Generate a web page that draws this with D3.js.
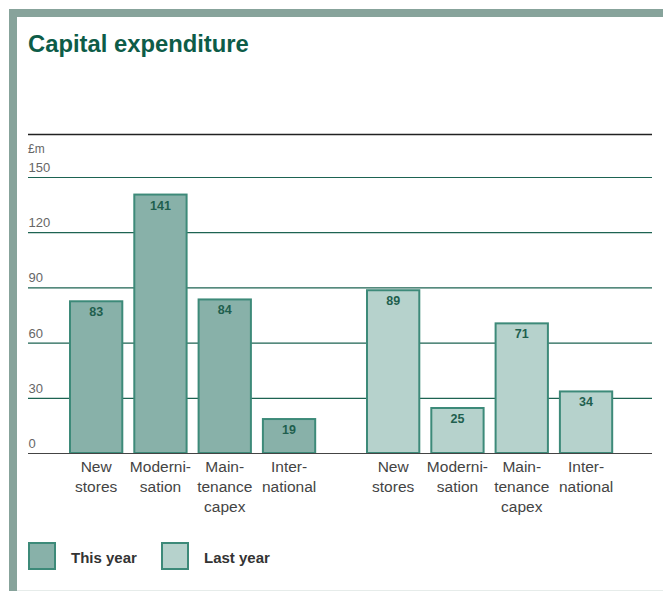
<!DOCTYPE html>
<html>
<head>
<meta charset="utf-8">
<script src="https://cdn.jsdelivr.net/npm/d3@7"></script>
<style>
  html, body { margin: 0; padding: 0; background: #fff; }
  svg { display: block; font-family: "Liberation Sans", Arial, Helvetica, sans-serif; }
</style>
</head>
<body>
<svg id="chart" width="663" height="591"></svg>
<script>
// Capital expenditure, £m
const series = ["This year", "Last year"];
const categories = ["New stores", "Modernisation", "Maintenance capex", "International"];
const categoryLines = [["New", "stores"], ["Moderni-", "sation"], ["Main-", "tenance", "capex"], ["Inter-", "national"]];
const thisYear = [83, 141, 84, 19];
const lastYear = [89, 25, 71, 34];
const yTicks = [0, 30, 60, 90, 120, 150];

const values = { "This year": thisYear, "Last year": lastYear };
const fills = { "This year": "#88b1a9", "Last year": "#b6d2cc" };
const strokeCol = "#3d8a79";

const svg = d3.select("#chart");

// frame
svg.append("rect").attr("x", 9).attr("y", 9).attr("width", 654).attr("height", 8).attr("fill", "#87a39b");
svg.append("rect").attr("x", 9).attr("y", 9).attr("width", 8).attr("height", 582).attr("fill", "#87a39b");
svg.append("line").attr("x1", 17).attr("x2", 663).attr("y1", 590.5).attr("y2", 590.5)
  .attr("stroke", "#e6ecea").attr("stroke-width", 1);

// title
svg.append("text").attr("x", 28).attr("y", 51.5)
  .attr("font-size", 23.8).attr("font-weight", "bold").attr("fill", "#0d5c48")
  .text("Capital expenditure");

const left = 28, right = 652;
const y = d3.scaleLinear().domain([0, 150]).range([453, 177]);

// top rule and unit
svg.append("line").attr("x1", left).attr("x2", right).attr("y1", 134.5).attr("y2", 134.5)
  .attr("stroke", "#222").attr("stroke-width", 1.5);
svg.append("text").attr("x", left).attr("y", 153).attr("font-size", 12).attr("fill", "#666").text("£m");

// gridlines and tick labels
const grid = svg.append("g");
grid.selectAll("line").data(yTicks.filter(d => d > 0)).join("line")
  .attr("x1", left).attr("x2", right)
  .attr("y1", d => y(d) + 0.5).attr("y2", d => y(d) + 0.5)
  .attr("stroke", "#1d6352").attr("stroke-width", 1.2);
grid.selectAll("text").data(yTicks).join("text")
  .attr("x", left + 0.5).attr("y", d => y(d) - 5)
  .attr("font-size", 13).attr("fill", "#666")
  .text(d => d);

// bars
const xGroup = d3.scaleBand().domain(series).range([69, 613.2]).paddingInner(0.1677).paddingOuter(0);
const xCat = d3.scaleBand().domain(categories).range([0, xGroup.bandwidth()]).paddingInner(0.1555).paddingOuter(0);

const groups = svg.append("g").selectAll("g").data(series).join("g")
  .attr("transform", s => `translate(${xGroup(s)},0)`);

groups.selectAll("rect").data(s => categories.map((c, i) => ({ s, c, v: values[s][i] }))).join("rect")
  .attr("x", d => xCat(d.c) + 1)
  .attr("width", xCat.bandwidth() - 2)
  .attr("y", d => y(d.v) + 1)
  .attr("height", d => y(0) - y(d.v) - 1)
  .attr("fill", d => fills[d.s])
  .attr("stroke", strokeCol).attr("stroke-width", 2);

groups.selectAll("text.val").data(s => categories.map((c, i) => ({ s, c, v: values[s][i] }))).join("text")
  .attr("class", "val")
  .attr("x", d => xCat(d.c) + xCat.bandwidth() / 2)
  .attr("y", d => y(d.v) + 16)
  .attr("text-anchor", "middle").attr("font-size", 12.5).attr("font-weight", "bold").attr("fill", "#1f5f4e")
  .text(d => d.v);

// category labels
groups.selectAll("text.cat").data(categories).join("text")
  .attr("class", "cat")
  .attr("text-anchor", "middle").attr("font-size", 15.5).attr("fill", "#444")
  .attr("transform", c => `translate(${xCat(c) + xCat.bandwidth() / 2},472)`)
  .selectAll("tspan").data(c => categoryLines[categories.indexOf(c)]).join("tspan")
  .attr("x", 0).attr("y", (d, i) => i * 20)
  .text(d => d);

// zero axis
svg.append("line").attr("x1", left).attr("x2", right).attr("y1", y(0) + 0.5).attr("y2", y(0) + 0.5)
  .attr("stroke", "#444").attr("stroke-width", 1.2);

// legend
const legend = svg.append("g").selectAll("g").data(series).join("g")
  .attr("transform", (s, i) => `translate(${[29, 162][i]},543)`);
legend.append("rect").attr("width", 26).attr("height", 26)
  .attr("fill", s => fills[s]).attr("stroke", strokeCol).attr("stroke-width", 2);
legend.append("text").attr("x", 42).attr("y", 19.5)
  .attr("font-size", 15).attr("font-weight", "bold").attr("fill", "#333")
  .text(s => s);
</script>
</body>
</html>
